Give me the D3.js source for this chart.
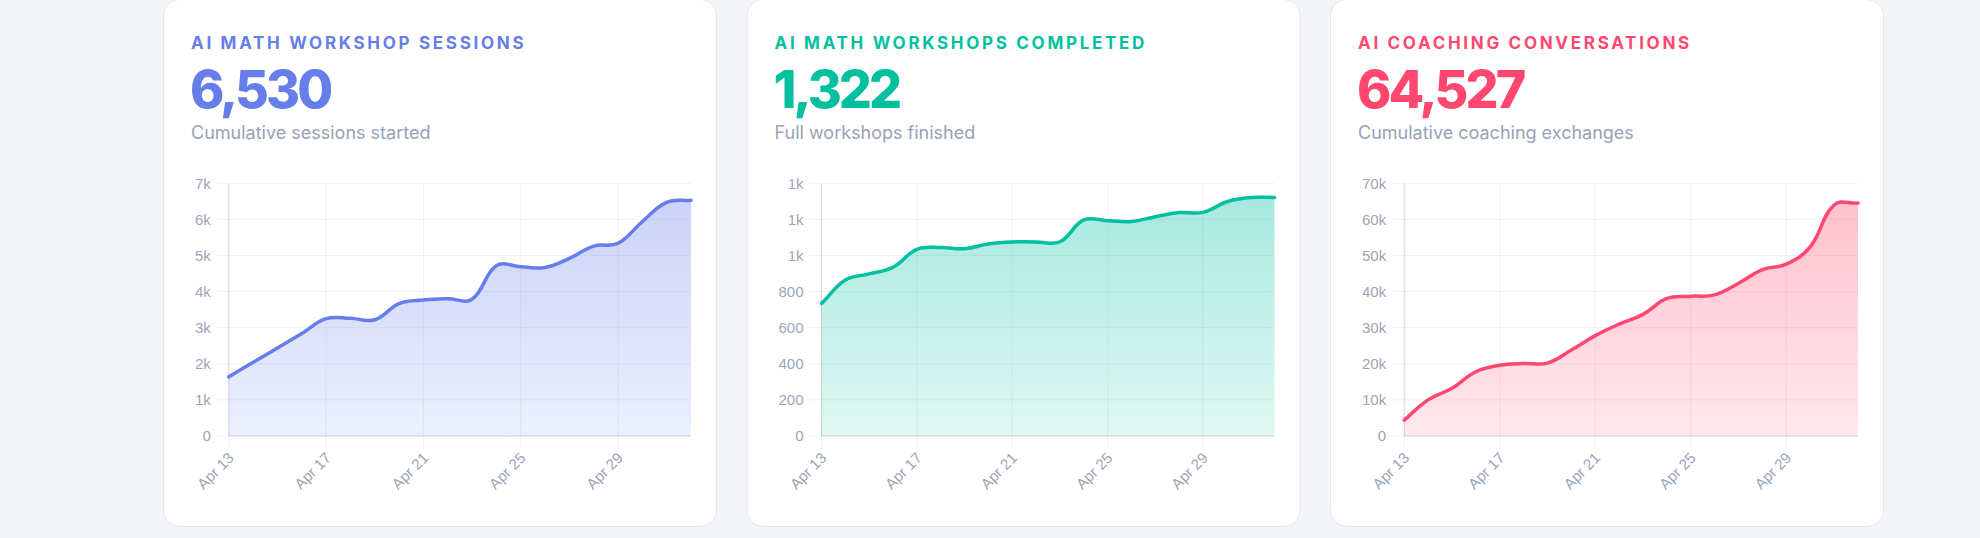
<!DOCTYPE html>
<html>
<head>
<meta charset="utf-8">
<script src="https://cdn.jsdelivr.net/npm/d3@7"></script>
<style>
  body { margin: 0; background: #f4f5f9; }
  svg { display: block; }
</style>
</head>
<body>
<script>
// daily points, Apr 13 -> May 2
const dates = ["2025-04-13","2025-04-14","2025-04-15","2025-04-16","2025-04-17","2025-04-18","2025-04-19",
  "2025-04-20","2025-04-21","2025-04-22","2025-04-23","2025-04-24","2025-04-25","2025-04-26",
  "2025-04-27","2025-04-28","2025-04-29","2025-04-30","2025-05-01","2025-05-02"];
const xTickDates = ["2025-04-13","2025-04-17","2025-04-21","2025-04-25","2025-04-29"];

const sessions = [1640, 2040, 2440, 2840, 3250, 3260, 3220, 3670, 3770, 3800, 3790,
  4720, 4690, 4670, 4920, 5260, 5340, 5940, 6470, 6530];
const completed = [734, 864, 898, 935, 1034, 1044, 1038, 1064, 1075, 1075, 1076,
  1197, 1193, 1188, 1215, 1238, 1239, 1298, 1321, 1322];
const coaching = [4400, 10000, 13200, 17800, 19600, 20100, 20200, 23800, 27800, 31000, 33700,
  38100, 38700, 39100, 42300, 46100, 47600, 52400, 64000, 64527];

const sessionsTicks = [0, 1000, 2000, 3000, 4000, 5000, 6000, 7000];
const sessionsTickLabels = ["0", "1k", "2k", "3k", "4k", "5k", "6k", "7k"];
const completedTicks = [0, 200, 400, 600, 800, 1000, 1200, 1400];
const completedTickLabels = ["0", "200", "400", "600", "800", "1k", "1k", "1k"];
const coachingTicks = [0, 10000, 20000, 30000, 40000, 50000, 60000, 70000];
const coachingTickLabels = ["0", "10k", "20k", "30k", "40k", "50k", "60k", "70k"];

const titles = ["AI MATH WORKSHOP SESSIONS", "AI MATH WORKSHOPS COMPLETED", "AI COACHING CONVERSATIONS"];
const totals = ["6,530", "1,322", "64,527"];
const subtitles = ["Cumulative sessions started", "Full workshops finished", "Cumulative coaching exchanges"];
const colors = ["#667eea", "#00c0a0", "#ff4770"];

const W = 1980, H = 538;
const cardLeft = 163, cardW = 553, cardGap = 30.5, cardTop = -1, cardBottom = 526;
const plotTop = 183.3, plotBottom = 436;
const tickFont = "'Helvetica Neue', Helvetica, Arial, 'Liberation Sans', sans-serif";
const tickColor = "#9aa5b8";
const tension = 0.4;

const parse = d3.timeParse("%Y-%m-%d");
const fmt = d3.timeFormat("%b %-d");

// spline like chart.js: control points weighted by pixel distance, kept inside the plot
function splinePath(p, box) {
  const cps = p.map(function (cur, k) {
    const prev = p[Math.max(k - 1, 0)];
    const next = p[Math.min(k + 1, p.length - 1)];
    const d01 = Math.hypot(cur[0] - prev[0], cur[1] - prev[1]);
    const d12 = Math.hypot(next[0] - cur[0], next[1] - cur[1]);
    let s01 = d01 / (d01 + d12), s12 = d12 / (d01 + d12);
    if (isNaN(s01)) s01 = 0;
    if (isNaN(s12)) s12 = 0;
    const fa = tension * s01, fb = tension * s12;
    const cap = function (q) {
      return [Math.max(box.l, Math.min(box.r, q[0])), Math.max(box.t, Math.min(box.b, q[1]))];
    };
    return {
      a: cap([cur[0] - fa * (next[0] - prev[0]), cur[1] - fa * (next[1] - prev[1])]),
      b: cap([cur[0] + fb * (next[0] - prev[0]), cur[1] + fb * (next[1] - prev[1])])
    };
  });
  let d = `M${p[0][0]},${p[0][1]}`;
  for (let k = 1; k < p.length; k++) {
    d += `C${cps[k - 1].b[0]},${cps[k - 1].b[1]},${cps[k].a[0]},${cps[k].a[1]},${p[k][0]},${p[k][1]}`;
  }
  return d;
}

const svg = d3.select("body").append("svg").attr("width", W).attr("height", H);
const defs = svg.append("defs");

const charts = [
  { values: sessions, ticks: sessionsTicks, labels: sessionsTickLabels },
  { values: completed, ticks: completedTicks, labels: completedTickLabels },
  { values: coaching, ticks: coachingTicks, labels: coachingTickLabels }
];

charts.forEach(function (c, i) {
  const cx = cardLeft + i * (cardW + cardGap);
  const color = colors[i];

  svg.append("rect")
    .attr("x", cx + 0.5).attr("y", cardTop + 0.5)
    .attr("width", cardW).attr("height", cardBottom - cardTop)
    .attr("rx", 16)
    .style("fill", "#fff")
    .style("stroke", "#e4e7ee");

  svg.append("text")
    .attr("x", cx + 28).attr("y", 49)
    .text(titles[i])
    .style("font-family", "Inter, sans-serif")
    .style("font-weight", 700)
    .style("font-size", "17px")
    .style("letter-spacing", "2.7px")
    .style("fill", color);

  svg.append("text")
    .attr("x", cx + 27).attr("y", 108)
    .text(totals[i])
    .style("font-family", "Inter, sans-serif")
    .style("font-weight", 800)
    .style("font-size", "52px")
    .style("letter-spacing", "-3px")
    .style("fill", color);

  svg.append("text")
    .attr("x", cx + 28).attr("y", 139)
    .text(subtitles[i])
    .style("font-family", "Inter, sans-serif")
    .style("font-size", "18px")
    .style("fill", "#97a3b6");

  const y = d3.scaleLinear()
    .domain([0, c.ticks[c.ticks.length - 1]])
    .range([plotBottom, plotTop]);

  // y labels first, so the plot can start after the widest one
  const yg = svg.append("g");
  yg.call(d3.axisLeft(y).tickValues(c.ticks)
      .tickFormat(function (d, k) { return c.labels[k]; })
      .tickSize(12).tickPadding(6));
  yg.select(".domain").remove();
  yg.selectAll("line").remove();
  yg.selectAll("text")
    .style("font-family", tickFont)
    .style("font-size", "15px")
    .style("fill", tickColor);
  let maxW = 0;
  yg.selectAll("text").each(function () {
    maxW = Math.max(maxW, this.getComputedTextLength());
  });
  const plotLeft = cx + 32 + maxW + 18;
  const plotRight = cx + cardW - 25;
  yg.attr("transform", `translate(${plotLeft},0)`);

  const x = d3.scaleTime()
    .domain([parse(dates[0]), parse(dates[dates.length - 1])])
    .range([plotLeft, plotRight]);

  const grid = svg.insert("g", () => yg.node());
  grid.selectAll("line.h")
    .data(c.ticks)
    .enter()
    .append("line")
    .attr("x1", plotLeft - 12).attr("x2", plotRight)
    .attr("y1", function (d) { return y(d); })
    .attr("y2", function (d) { return y(d); })
    .style("stroke", "rgba(0,0,0,0.055)");
  grid.selectAll("line.v")
    .data(xTickDates)
    .enter()
    .append("line")
    .attr("x1", function (d) { return x(parse(d)); })
    .attr("x2", function (d) { return x(parse(d)); })
    .attr("y1", plotTop).attr("y2", plotBottom + 13)
    .style("stroke", "rgba(0,0,0,0.055)");

  const gid = "fill" + i;
  const grad = defs.append("linearGradient")
    .attr("id", gid)
    .attr("gradientUnits", "userSpaceOnUse")
    .attr("x1", 0).attr("x2", 0)
    .attr("y1", plotTop).attr("y2", plotBottom);
  grad.append("stop").attr("offset", 0).attr("stop-color", color).attr("stop-opacity", 0.36);
  grad.append("stop").attr("offset", 1).attr("stop-color", color).attr("stop-opacity", 0.12);

  const pts = c.values.map(function (v, k) { return [x(parse(dates[k])), y(v)]; });
  const box = { l: plotLeft, r: plotRight, t: plotTop, b: plotBottom };
  const linePath = splinePath(pts, box);

  svg.append("path")
    .attr("d", linePath + `L${plotRight},${plotBottom}L${plotLeft},${plotBottom}Z`)
    .style("fill", `url(#${gid})`);

  // axis borders
  svg.append("line")
    .attr("x1", plotLeft).attr("x2", plotLeft)
    .attr("y1", plotTop).attr("y2", plotBottom)
    .style("stroke", "rgba(0,0,0,0.12)");
  svg.append("line")
    .attr("x1", plotLeft).attr("x2", plotRight)
    .attr("y1", plotBottom).attr("y2", plotBottom)
    .style("stroke", "rgba(0,0,0,0.12)");

  svg.append("path")
    .attr("d", linePath)
    .style("fill", "none")
    .style("stroke", color)
    .style("stroke-width", 3.5)
    .style("stroke-linejoin", "round")
    .style("stroke-linecap", "round");

  svg.append("g")
    .selectAll("text")
    .data(xTickDates)
    .enter()
    .append("text")
    .attr("transform", function (d) { return `translate(${x(parse(d)) + 2},455) rotate(-45)`; })
    .attr("text-anchor", "end")
    .attr("dominant-baseline", "central")
    .text(function (d) { return fmt(parse(d)); })
    .style("font-family", tickFont)
    .style("font-size", "15px")
    .style("fill", tickColor);
});
</script>
</body>
</html>
